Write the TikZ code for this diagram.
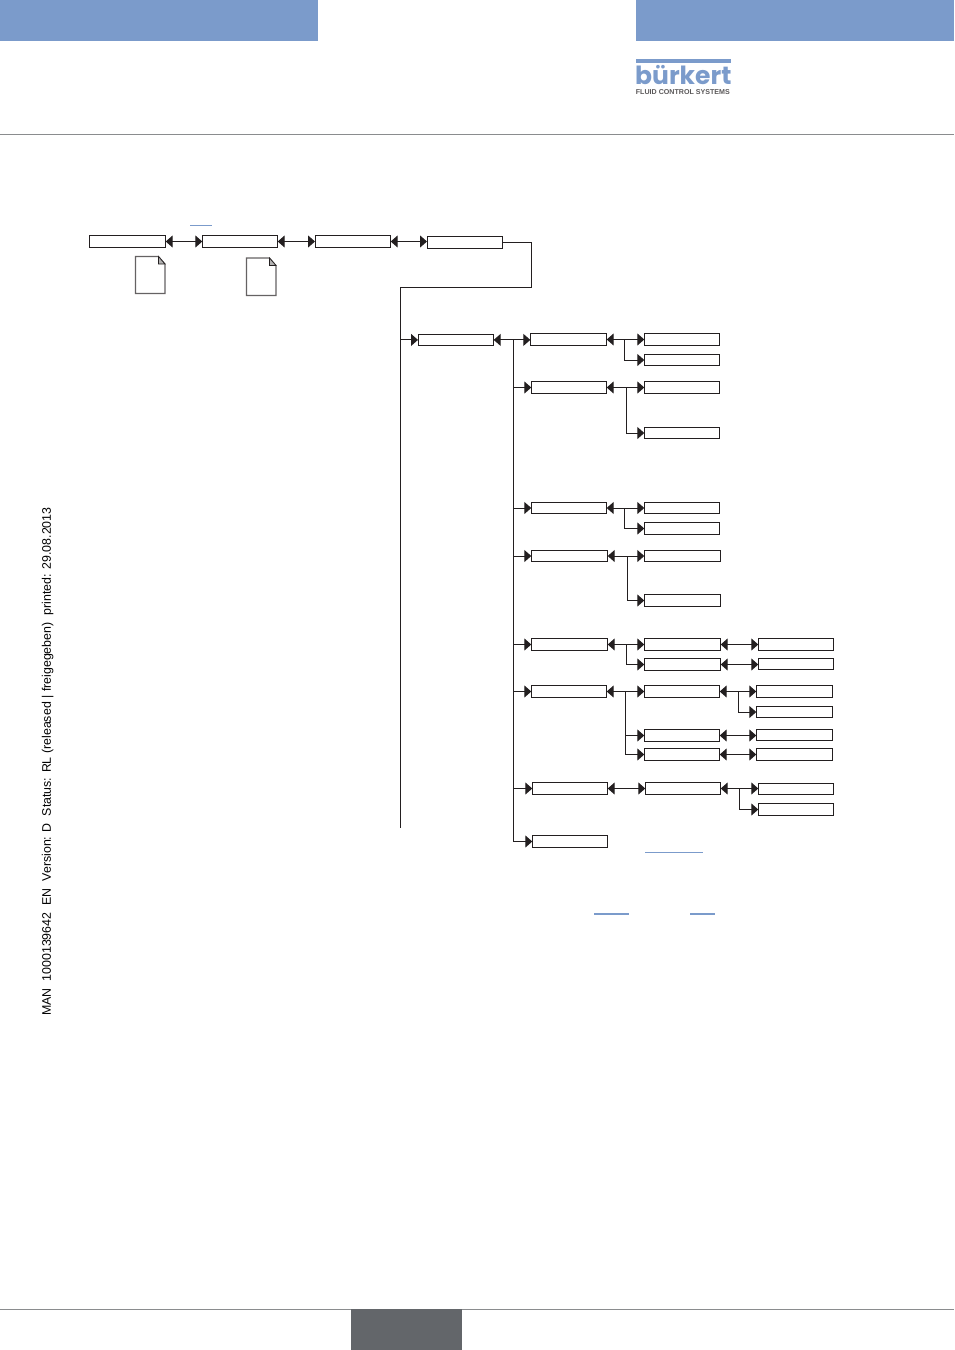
\documentclass[tikz,border=0pt]{standalone}
\usepackage{fontspec}
\setmainfont{Liberation Sans}
\newfontfamily\logofont{Poppins}
\usetikzlibrary{arrows.meta}
\definecolor{brandblue}{HTML}{7B9BCB}
\definecolor{ink}{HTML}{231F20}
\definecolor{rulegrey}{HTML}{8A8C8E}
\definecolor{tabgrey}{HTML}{63666A}
\tikzset{
  x=1pt,y=-1pt,
  menubox/.style={draw=ink,fill=white,line width=1pt,inner sep=0pt,outer sep=0pt},
  wire/.style={draw=ink,line width=1pt},
  tip/.style={wire,-{Triangle[length=7pt,width=12pt]}},
  both/.style={wire,{Triangle[length=7pt,width=12pt]}-{Triangle[length=7pt,width=12pt]}},
  sheet/.style={draw=ink!70,fill=white,line width=1.1pt,line join=miter},
  fold/.style={draw=ink,fill=ink!35,line width=0.7pt},
  hairrule/.style={draw=rulegrey,line width=0.9pt},
  linkline/.style={draw=brandblue,line width=1pt},
  linklinethick/.style={draw=brandblue,line width=2pt}
}
% \menubx{name}{x1}{y1}{x2}{y2}: an empty menu box given by its corners
\newcommand{\menubx}[5]{\node[menubox,minimum width={(#4-#2)*1pt},minimum height={(#5-#3)*1pt}] (#1) at ({(#2+#4)/2},{(#3+#5)/2}) {};}
% \lnk{a}{b}: double-headed link, level with the first box
\newcommand{\lnk}[2]{\draw[both] (#1.east) -- (#1.east -| #2.west);}
\begin{document}
\begin{tikzpicture}
\useasboundingbox (0,0) rectangle (954,1350);
% header and footer furniture
\fill[brandblue] (0,0) rectangle (318,41);
\fill[brandblue] (636,0) rectangle (954,41);
\draw[hairrule] (0,134.5) -- (954,134.5);
\draw[hairrule] (0,1309.5) -- (954,1309.5);
\fill[tabgrey] (351,1309) rectangle (462,1350);
% logo
\node[anchor=base west,inner sep=0pt,text=brandblue] (logo) at (635,84.3)
  {\fontsize{25}{26}\logofont\bfseries bürkert};
\fill[brandblue] (636,59) rectangle (731,62.7);
\node[anchor=base west,inner sep=0pt,text=ink!75] (tagline) at (635.7,94)
  {\fontsize{7.1}{8}\selectfont\bfseries FLUID CONTROL SYSTEMS};
% document status, running up the left margin
\node[rotate=90,anchor=base west,inner sep=0pt,text=black] (status) at (50.8,1016)
  {\fontsize{12.4}{14}\selectfont MAN\ \ 1000139642\ \ EN\ \ Version: D\ \ Status: RL (released | freigegeben)\ \ printed: 29.08.2013};

% top row
\menubx{n1}{89.3}{235.3}{165.7}{247.7}
\menubx{n2}{202.3}{235.3}{277.7}{247.7}
\menubx{n3}{315}{235.3}{390.7}{247.7}
\menubx{n4}{427}{236}{502.7}{248.7}
\lnk{n1}{n2}
\lnk{n2}{n3}
\lnk{n3}{n4}
% page symbols under the first two boxes
\draw[sheet] (135.5,256.5) -- (158.5,256.5) -- (165,264) -- (165,293.5) -- (135.5,293.5) -- cycle;
\draw[fold] (158.5,256.5) -- (158.5,264) -- (165,264) -- cycle;
\draw[sheet] (246.5,258) -- (269.5,258) -- (276,265.5) -- (276,295.5) -- (246.5,295.5) -- cycle;
\draw[fold] (269.5,258) -- (269.5,265.5) -- (276,265.5) -- cycle;

% trunk from the last top box down the page
\coordinate (bend) at (531.7,287.3);
\coordinate (trunkTop) at (400.3,287.3);
\coordinate (trunkEnd) at (400.3,828);
\draw[wire] (n4.east) -- (n4.east -| bend) -- (bend) -- (trunkTop) -- (trunkEnd);

% second level
\menubx{n5}{418}{334.3}{493.7}{345.5}
\draw[tip] (trunkTop |- n5.west) -- (n5.west);

% third level
\menubx{b1}{530.3}{333.3}{606.7}{345.7}
\menubx{b2}{531.3}{381.3}{606.7}{393.7}
\menubx{b3}{531.3}{502.3}{606.7}{513.7}
\menubx{b4}{531.3}{550.3}{607.7}{561.7}
\menubx{b5}{531.3}{638.3}{607.7}{650.7}
\menubx{b6}{531.3}{685.3}{606.7}{697.7}
\menubx{b7}{532.3}{782.3}{607.7}{794.7}
\menubx{b8}{532.3}{835.3}{607.7}{847.7}
\lnk{n5}{b1}
\coordinate (spine) at (513.5,340);
\draw[tip] (spine) |- (b8.west);
\foreach \b in {b2,b3,b4,b5,b6,b7} {\draw[tip] (spine |- \b.west) -- (\b.west);}

% fourth level
\menubx{c1}{644.3}{333.3}{719.7}{345.7}
\menubx{c2}{644.3}{354.3}{719.7}{365.7}
\menubx{c3}{644.3}{381.3}{719.7}{393.7}
\menubx{c4}{644.3}{427.3}{719.7}{438.7}
\menubx{c5}{644.3}{502.3}{719.7}{513.7}
\menubx{c6}{644.3}{522.3}{719.7}{534.7}
\menubx{c7}{644.3}{550.3}{720.7}{561.7}
\menubx{c8}{644.3}{594.3}{720.7}{606.7}
\menubx{c9}{644.3}{638.3}{720.7}{650.7}
\menubx{c10}{644.3}{658.3}{720.7}{670.7}
\menubx{c11}{644.3}{685.3}{719.7}{697.7}
\menubx{c12}{644.3}{729.3}{719.7}{741.7}
\menubx{c13}{644.3}{748.3}{719.7}{760.7}
\menubx{c14}{645.3}{782.3}{720.7}{794.7}
\lnk{b1}{c1}
\lnk{b2}{c3}
\lnk{b3}{c5}
\lnk{b4}{c7}
\lnk{b5}{c9}
\lnk{b6}{c11}
\lnk{b7}{c14}
\coordinate (j1) at (624.3,339.5);
\coordinate (j2) at (626.3,387.5);
\coordinate (j3) at (624.3,508);
\coordinate (j4) at (627.3,556);
\coordinate (j5) at (626.3,644.5);
\coordinate (j6) at (625.3,691.5);
\draw[tip] (j1) |- (c2.west);
\draw[tip] (j2) |- (c4.west);
\draw[tip] (j3) |- (c6.west);
\draw[tip] (j4) |- (c8.west);
\draw[tip] (j5) |- (c10.west);
\draw[tip] (j6) |- (c12.west);
\draw[tip] (j6) |- (c13.west);

% fifth level
\menubx{d1}{758.3}{638.3}{833.7}{650.7}
\menubx{d2}{758.3}{658.3}{833.7}{669.7}
\menubx{d3}{756.3}{685.3}{832.7}{697.7}
\menubx{d4}{756.3}{706.3}{832.7}{717.7}
\menubx{d5}{756.3}{729.3}{832.7}{740.7}
\menubx{d6}{756.3}{748.3}{832.7}{760.7}
\menubx{d7}{758.3}{783.3}{833.7}{794.7}
\menubx{d8}{758.3}{803.3}{833.7}{815.7}
\lnk{c9}{d1}
\lnk{c10}{d2}
\lnk{c11}{d3}
\lnk{c12}{d5}
\lnk{c13}{d6}
\lnk{c14}{d7}
\coordinate (j7) at (738.3,691.5);
\coordinate (j8) at (739.3,788.5);
\draw[tip] (j7) |- (d4.west);
\draw[tip] (j8) |- (d8.west);

% cross-reference underlines
\coordinate (u1a) at (190,225); \coordinate (u1b) at (211.7,225);
\coordinate (u2a) at (645,852.3); \coordinate (u2b) at (703,852.3);
\coordinate (u3a) at (594,913.7); \coordinate (u3b) at (629,913.7);
\coordinate (u4a) at (690,913.7); \coordinate (u4b) at (715,913.7);
\draw[linkline] (u1a) -- (u1b);
\draw[linkline] (u2a) -- (u2b);
\draw[linklinethick] (u3a) -- (u3b);
\draw[linklinethick] (u4a) -- (u4b);
\end{tikzpicture}
\end{document}
